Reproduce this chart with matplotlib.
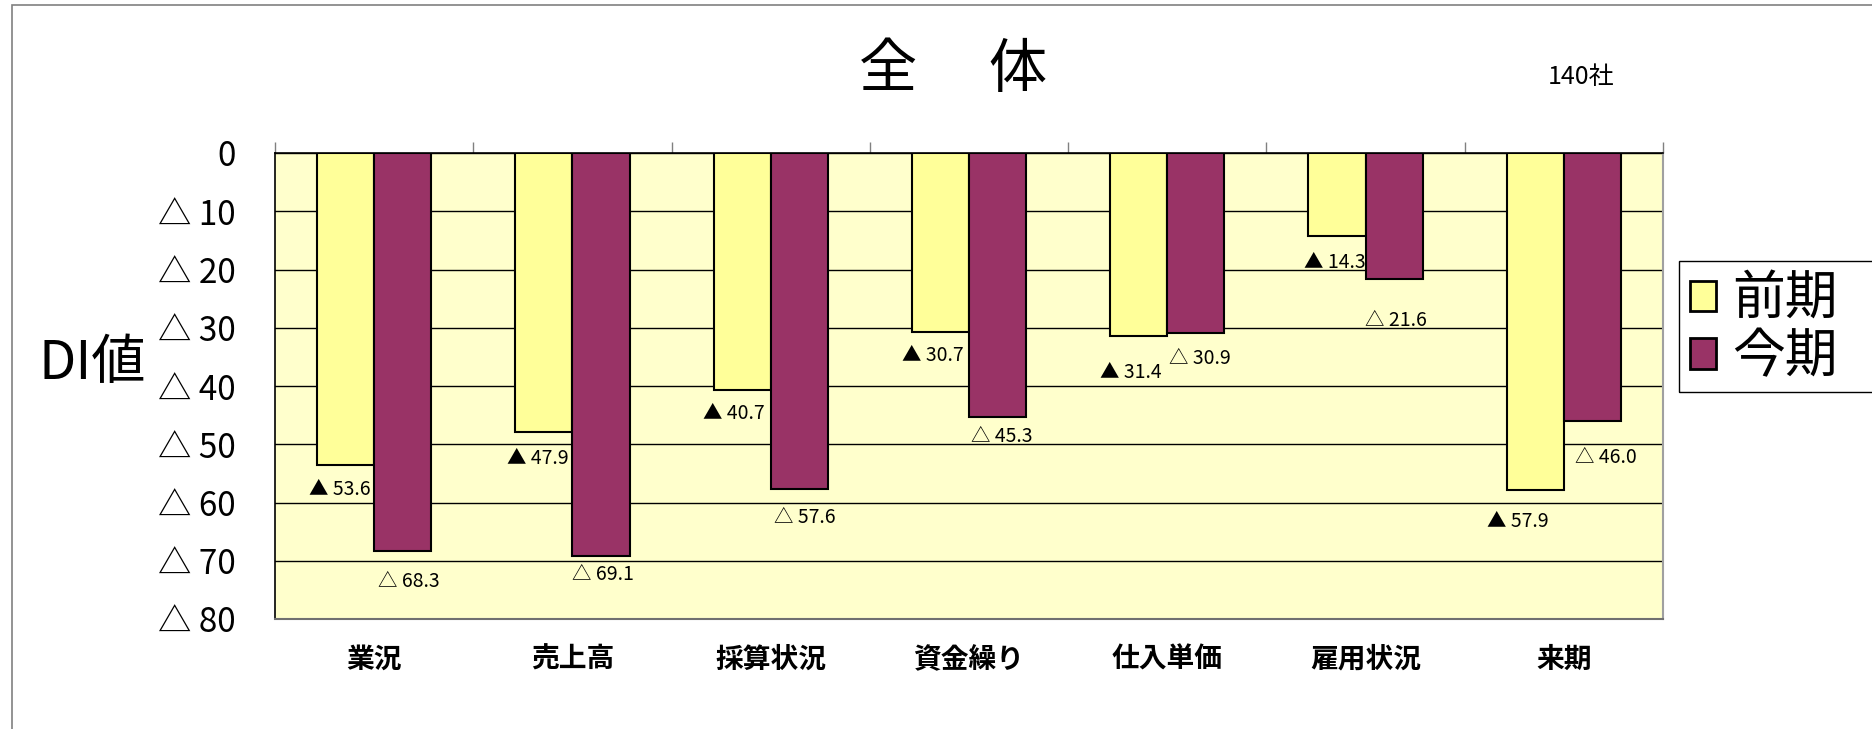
import numpy as np
import matplotlib
matplotlib.use("Agg")
import matplotlib.pyplot as plt
from matplotlib.patches import Rectangle

plt.rcParams['font.family'] = ['Noto Sans CJK JP', 'DejaVu Sans']

# data (DI values, negative = △)
categories = ["業況", "売上高", "採算状況", "資金繰り", "仕入単価", "雇用状況", "来期"]
prev_di = [-53.6, -47.9, -40.7, -30.7, -31.4, -14.3, -57.9]   # 前期
curr_di = [-68.3, -69.1, -57.6, -45.3, -30.9, -21.6, -46.0]   # 今期
y_ticks = [0, -10, -20, -30, -40, -50, -60, -70, -80]

# label offsets below the bar end (value units)
off_prev = [4.2, 4.6, 4.1, 4.1, 6.2, 4.5, 5.4]
off_curr = [5.3, 3.2, 5.0, 3.4, 4.3, 7.2, 6.3]
# small horizontal nudges of the labels (category units)
dx_prev = [-0.03, -0.03, -0.04, -0.04, -0.04, -0.01, -0.09]
dx_curr = [0.03, 0.01, 0.03, 0.02, 0.02, 0.01, 0.07]

W, H = 1872, 729
fig = plt.figure(figsize=(W / 100, H / 100), dpi=100)
fig.patch.set_facecolor("white")

# outer frame of the chart object (cut off at right/bottom)
fig.patches.append(Rectangle((12 / W, -0.1), 1.2, 1.1 - 5 / H, transform=fig.transFigure,
                             fill=False, edgecolor="#808080", linewidth=1.2))
# legend box, runs off the right edge like the original
fig.patches.append(Rectangle((1679 / W, 1 - 392 / H), 0.2, 131 / H, transform=fig.transFigure,
                             fill=False, edgecolor="black", linewidth=1))

ax = fig.add_axes([275 / W, 1 - 619 / H, (1663 - 275) / W, (619 - 153) / H])
ax.set_facecolor("#FFFFCC")

x = np.arange(len(categories)) + 0.5
bw = 0.288
ax.bar(x - bw / 2, prev_di, bw, color="#FFFF99", edgecolor="black", linewidth=1.5, zorder=3, label="前期")
ax.bar(x + bw / 2, curr_di, bw, color="#993366", edgecolor="black", linewidth=1.5, zorder=3, label="今期")

for i in range(len(categories)):
    ax.text(x[i] - bw / 2 + dx_prev[i], prev_di[i] - off_prev[i], f"▲ {abs(prev_di[i]):.1f}",
            ha="center", va="center", fontsize=14, zorder=4)
    ax.text(x[i] + bw / 2 + dx_curr[i], curr_di[i] - off_curr[i], f"△ {abs(curr_di[i]):.1f}",
            ha="center", va="center", fontsize=14, zorder=4)

ax.set_xlim(0, len(categories))
ax.set_ylim(-80, 0)
ax.set_yticks(y_ticks)
ax.set_yticklabels(["0" if v == 0 else f"△ {abs(v)}" for v in y_ticks], fontsize=24)
ax.tick_params(axis="y", length=0, pad=28)
ax.yaxis.grid(True, color="black", linewidth=1, zorder=1)

# category boundaries as ticks on top axis, labels below plot
ax.xaxis.set_ticks_position("top")
ax.set_xticks(np.arange(len(categories) + 1))
ax.set_xticklabels([])
ax.tick_params(axis="x", direction="out", length=8, color="#808080", width=1)
for i, c in enumerate(categories):
    ax.text(x[i], -87.0, c, ha="center", va="center", fontsize=20, fontweight="bold")

ax.spines["top"].set_color("black")
ax.spines["top"].set_linewidth(1.2)
ax.spines["left"].set_color("black")
ax.spines["left"].set_linewidth(1.2)
ax.spines["bottom"].set_color("#707070")
ax.spines["bottom"].set_linewidth(1.5)
ax.spines["right"].set_color("#a0a0a0")
ax.spines["right"].set_linewidth(1.5)

fig.text(953 / W, 1 - 70 / H, "全　 体", ha="center", va="center", fontsize=42)
fig.text(1581 / W, 1 - 77 / H, "140社", ha="center", va="center", fontsize=18)
fig.text(146 / W, 1 - 363 / H, "DI値", ha="right", va="center", fontsize=39)

leg = ax.legend(loc="upper left", bbox_to_anchor=(1679 / W, 1 - 261 / H),
                bbox_transform=fig.transFigure, fontsize=38, frameon=False,
                handlelength=0.5, handleheight=0.5,
                handletextpad=0.3, borderpad=0.2, labelspacing=0.05,
                borderaxespad=0)
for p in leg.get_patches():
    p.set_linewidth(2)

fig.savefig("out.png", dpi=100)
